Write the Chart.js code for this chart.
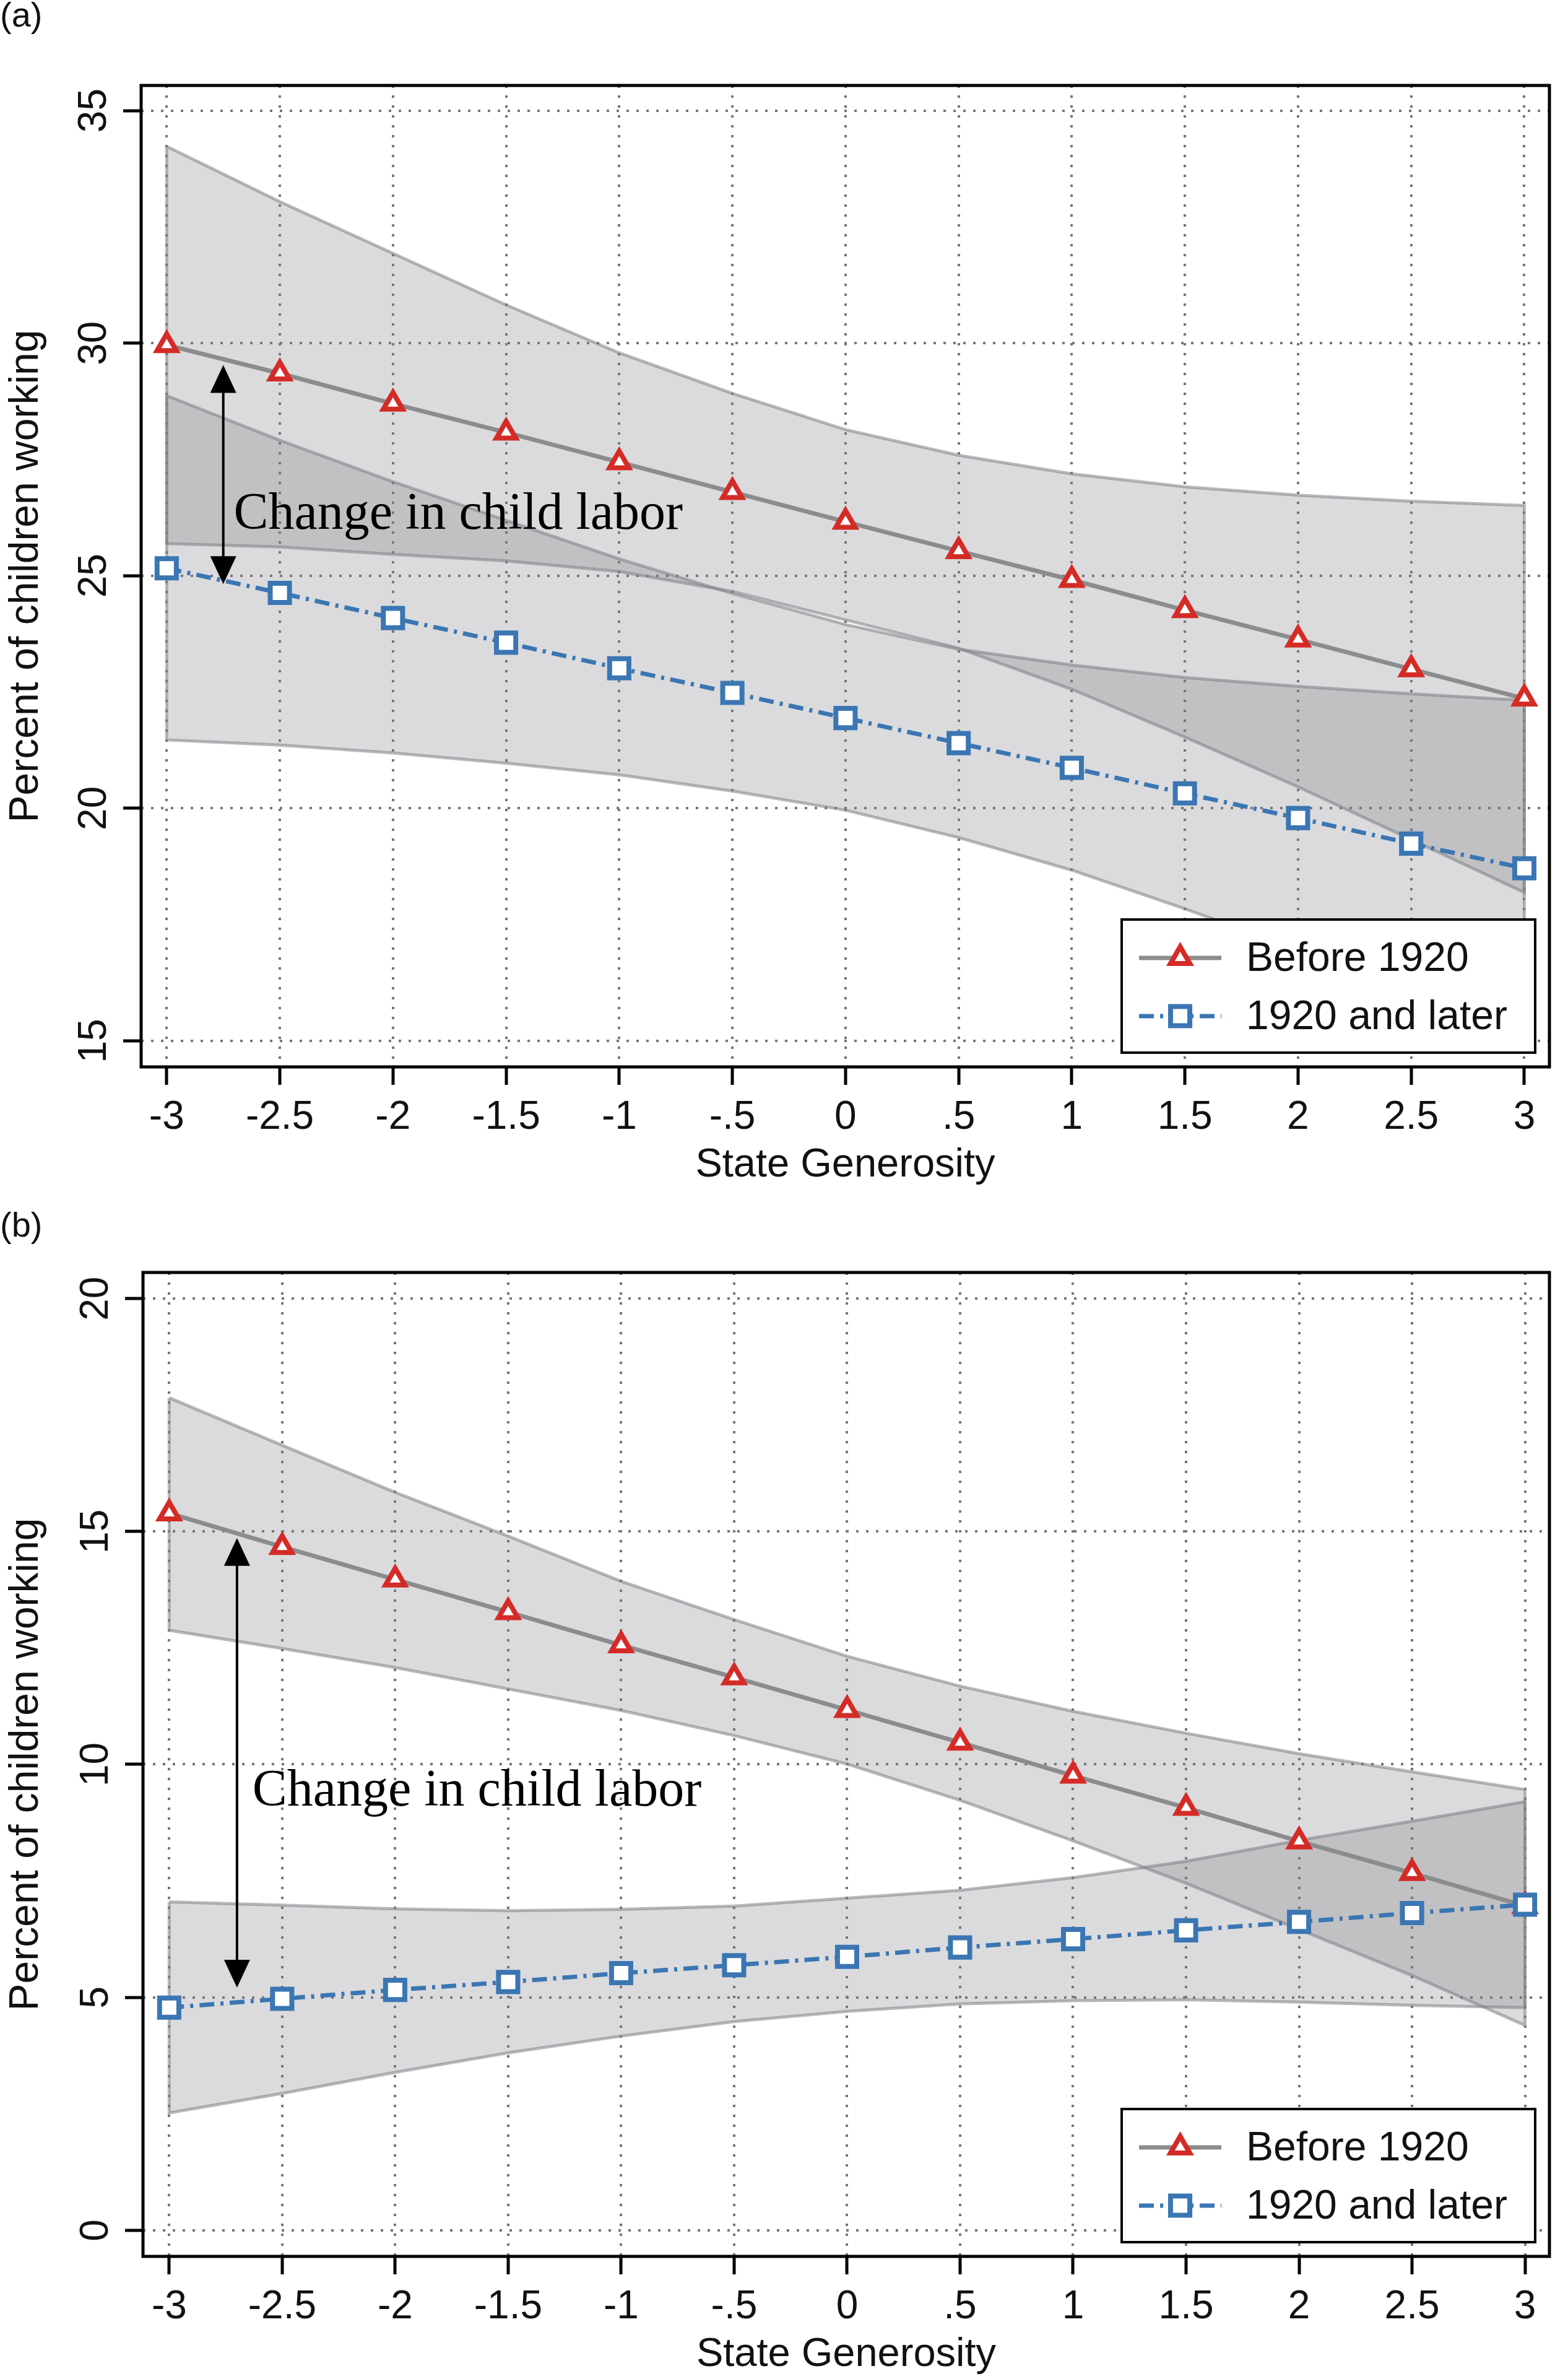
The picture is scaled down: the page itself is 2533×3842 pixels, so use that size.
<!DOCTYPE html>
<html>
<head>
<meta charset="utf-8">
<title>Child labor and state generosity</title>
<script src="https://cdn.jsdelivr.net/npm/chart.js"></script>
<style>
  body{margin:0;background:#fff;}
  .panel{width:2533px;height:1921px;}
  canvas{display:block;}
</style>
</head>
<body>
<div class="panel"><canvas id="plotA" width="2533" height="1921"></canvas></div>
<div class="panel"><canvas id="plotB" width="2533" height="1921"></canvas></div>
<script>
// x positions and their Stata-style labels (no leading zero)
const xValues = [-3, -2.5, -2, -1.5, -1, -0.5, 0, 0.5, 1, 1.5, 2, 2.5, 3]
const xTickLabels = ['-3', '-2.5', '-2', '-1.5', '-1', '-.5', '0', '.5', '1', '1.5', '2', '2.5', '3']
const yTicksA = [15, 20, 25, 30, 35]
const yTicksB = [0, 5, 10, 15, 20]
const seriesNames = ['Before 1920', '1920 and later']

// panel (a)
const beforeA      = [29.96, 29.35, 28.70, 28.08, 27.44, 26.80, 26.16, 25.53, 24.91, 24.26, 23.63, 22.99, 22.36]
const beforeAUpper = [34.23, 33.04, 31.93, 30.82, 29.79, 28.92, 28.14, 27.59, 27.19, 26.91, 26.73, 26.60, 26.51]
const beforeALower = [25.69, 25.62, 25.46, 25.32, 25.09, 24.66, 24.05, 23.44, 22.56, 21.53, 20.46, 19.33, 18.19]
const laterA       = [25.16, 24.63, 24.09, 23.56, 23.01, 22.48, 21.94, 21.40, 20.87, 20.32, 19.79, 19.24, 18.71]
const laterAUpper  = [28.87, 27.91, 27.02, 26.19, 25.36, 24.62, 23.95, 23.42, 23.08, 22.81, 22.62, 22.46, 22.32]
const laterALower  = [21.47, 21.36, 21.19, 20.97, 20.72, 20.37, 19.96, 19.37, 18.67, 17.84, 16.96, 16.02, 15.10]

// panel (b)
const beforeB      = [15.39, 14.67, 13.97, 13.27, 12.56, 11.87, 11.17, 10.47, 9.76, 9.07, 8.35, 7.67, 6.96]
const beforeBUpper = [17.87, 16.85, 15.84, 14.90, 13.93, 13.11, 12.32, 11.68, 11.14, 10.67, 10.23, 9.84, 9.46]
const beforeBLower = [12.88, 12.49, 12.08, 11.62, 11.16, 10.62, 10.01, 9.23, 8.36, 7.45, 6.46, 5.47, 4.40]
const laterB       = [4.78, 4.97, 5.16, 5.33, 5.52, 5.69, 5.87, 6.07, 6.25, 6.44, 6.62, 6.81, 6.99]
const laterBUpper  = [7.05, 6.98, 6.90, 6.86, 6.89, 6.96, 7.13, 7.30, 7.57, 7.92, 8.37, 8.78, 9.20]
const laterBLower  = [2.52, 2.94, 3.39, 3.81, 4.17, 4.48, 4.70, 4.86, 4.93, 4.95, 4.90, 4.83, 4.78]

// "Change in child labor" note: arrow [x, from, to] and text [x, baseline]
const noteText = 'Change in child labor'
const arrowA = [-2.75, 29.53, 24.82]
const noteA  = [-2.704, 26.01]
const arrowB = [-2.70, 14.86, 5.21]
const noteB  = [-2.632, 9.115]

const SANS = "'Liberation Sans', Arial, Helvetica, sans-serif"
const SERIF = "'Liberation Serif', 'Times New Roman', serif"
const RED = '#d52b27'
const BLUE = '#3b76b3'
const CHART_H = 1921
const AREA_BOTTOM = 1723

Chart.defaults.font.family = SANS

const points = (ys) => xValues.map((x, i) => ({x, y: ys[i]}))
// closed outline of a confidence band: upper left->right, lower back, then close
const bandPoints = (upper, lower) => {
  const top = points(upper)
  return [...top, ...points(lower).reverse(), top[0]]
}

const laterStyle = {
  label: seriesNames[1], borderColor: BLUE, borderWidth: 7, borderDash: [24, 10, 5, 10],
  pointStyle: 'rect', pointRadius: 22, pointBorderWidth: 8,
  pointBorderColor: BLUE, pointBackgroundColor: '#fff', fill: false, tension: 0
}
const beforeStyle = {
  label: seriesNames[0], borderColor: '#8b8c8e', borderWidth: 7,
  pointStyle: 'triangle', pointRadius: 18, pointBorderWidth: 8,
  pointBorderColor: RED, pointBackgroundColor: '#fff', fill: false, tension: 0
}
const bandStyle = {
  borderColor: 'rgba(125,127,132,0.55)', borderWidth: 5,
  backgroundColor: 'rgba(125,127,132,0.28)', pointRadius: 0, fill: 'shape', tension: 0
}

// black box round the plot region
const framePlugin = {
  id: 'frameBox',
  afterDatasetsDraw(chart){
    const {ctx, chartArea: a} = chart
    ctx.save()
    ctx.lineWidth = 5
    ctx.strokeStyle = '#000'
    ctx.strokeRect(a.left, a.top, a.right - a.left, a.bottom - a.top)
    ctx.restore()
  }
}

const drawHead = (ctx, x, tip, dir) => {
  ctx.beginPath()
  ctx.moveTo(x, tip)
  ctx.lineTo(x - 21, tip + dir * 45)
  ctx.lineTo(x + 21, tip + dir * 45)
  ctx.closePath()
  ctx.fill()
}

const notePlugin = {
  id: 'changeNote',
  afterDatasetsDraw(chart, args, opts){
    const {ctx, scales: {x, y}} = chart
    const ax = x.getPixelForValue(opts.arrow[0])
    const y1 = y.getPixelForValue(opts.arrow[1])
    const y2 = y.getPixelForValue(opts.arrow[2])
    ctx.save()
    ctx.strokeStyle = '#000'
    ctx.fillStyle = '#000'
    ctx.lineWidth = 4
    ctx.beginPath()
    ctx.moveTo(ax, y1 + 40)
    ctx.lineTo(ax, y2 - 40)
    ctx.stroke()
    drawHead(ctx, ax, y1, 1)
    drawHead(ctx, ax, y2, -1)
    ctx.font = `84px ${SERIF}`
    ctx.textBaseline = 'alphabetic'
    ctx.textAlign = 'left'
    ctx.fillText(noteText, x.getPixelForValue(opts.text[0]), y.getPixelForValue(opts.text[1]))
    ctx.restore()
  }
}

// boxed legend in the lower right corner of the plot
const legendPlugin = {
  id: 'boxLegend',
  afterDraw(chart){
    const {ctx, chartArea: a} = chart
    const w = 668, h = 215
    const left = a.right - 23 - w
    const top = a.bottom - 23 - h
    ctx.save()
    ctx.fillStyle = '#fff'
    ctx.fillRect(left, top, w, h)
    ctx.lineWidth = 4
    ctx.strokeStyle = '#000'
    ctx.strokeRect(left, top, w, h);
    [1, 0].forEach((dsIndex, row) => {
      const ds = chart.data.datasets[dsIndex]
      const y = top + 62 + row * 94
      ctx.setLineDash(ds.borderDash || [])
      ctx.strokeStyle = ds.borderColor
      ctx.lineWidth = ds.borderWidth
      ctx.beginPath()
      ctx.moveTo(left + 28, y)
      ctx.lineTo(left + 161, y)
      ctx.stroke()
      ctx.setLineDash([])
      ctx.fillStyle = '#fff'
      ctx.strokeStyle = ds.pointBorderColor
      ctx.lineWidth = ds.pointBorderWidth
      Chart.helpers.drawPoint(ctx, {pointStyle: ds.pointStyle, radius: ds.pointRadius, borderWidth: ds.pointBorderWidth, rotation: 0}, left + 94.5, y)
      ctx.fillStyle = '#111'
      ctx.font = `66px ${SANS}`
      ctx.textBaseline = 'middle'
      ctx.fillText(ds.label, left + 201, y + 3)
    })
    ctx.restore()
  }
}

const axisGrid = {color: '#777', lineWidth: 4, tickLength: 29, tickWidth: 5, tickColor: '#000'}
const axisBorder = {display: false, dash: [4, 12]}

const makeChart = (id, cfg) => new Chart(document.getElementById(id), {
  type: 'line',
  data: {
    datasets: [
      {...laterStyle, data: points(cfg.later)},
      {...beforeStyle, data: points(cfg.before)},
      {...bandStyle, label: 'before band', data: bandPoints(cfg.beforeUpper, cfg.beforeLower)},
      {...bandStyle, label: 'later band', data: bandPoints(cfg.laterUpper, cfg.laterLower)}
    ]
  },
  options: {
    responsive: false,
    animation: false,
    devicePixelRatio: 1,
    events: [],
    layout: {padding: {top: 0, left: 0, bottom: 0, right: cfg.padRight}},
    plugins: {
      legend: {display: false},
      tooltip: {enabled: false},
      title: {
        display: true, text: cfg.tag, align: 'start', color: '#111',
        font: {family: SANS, size: 56, lineHeight: 1, weight: 'normal'},
        padding: {top: cfg.tagTop, bottom: cfg.areaTop - 56 - cfg.tagTop}
      },
      changeNote: {arrow: cfg.arrow, text: cfg.note}
    },
    scales: {
      x: {
        type: 'linear', min: cfg.xMin, max: cfg.xMax,
        afterBuildTicks: s => { s.ticks = xValues.map(v => ({value: v})) },
        afterFit: s => {
          s.height = CHART_H - AREA_BOTTOM
          // labels fit inside the frame margin, no extra side room wanted
          s.paddingLeft = 0
          s.paddingRight = 0
        },
        ticks: {autoSkip: false, minRotation: 0, maxRotation: 0, padding: 15, color: '#111',
          font: {family: SANS, size: 64}, callback: (v, i) => xTickLabels[i]},
        grid: axisGrid,
        border: axisBorder,
        title: {display: true, text: 'State Generosity', color: '#111',
          font: {family: SANS, size: 65}, padding: {top: 0, bottom: 0}}
      },
      y: {
        type: 'linear', min: cfg.yMin, max: cfg.yMax,
        afterBuildTicks: s => { s.ticks = cfg.yTicks.map(v => ({value: v})) },
        afterFit: s => {
          s.width = cfg.areaLeft
          s.paddingTop = 0
          s.paddingBottom = 0
        },
        ticks: {autoSkip: false, minRotation: 90, maxRotation: 90, crossAlign: 'center', padding: 10,
          color: '#111', font: {family: SANS, size: 64}, callback: v => String(v)},
        grid: axisGrid,
        border: axisBorder,
        title: {display: true, text: 'Percent of children working', color: '#111',
          font: {family: SANS, size: 66}, padding: {top: 3, bottom: 0}}
      }
    }
  },
  plugins: [framePlugin, notePlugin, legendPlugin]
})

makeChart('plotA', {
  tag: '(a)', tagTop: 0, areaTop: 138, areaLeft: 228, padRight: 6,
  xMin: -3.113, xMax: 3.111, yMin: 14.44, yMax: 35.54, yTicks: yTicksA,
  before: beforeA, beforeUpper: beforeAUpper, beforeLower: beforeALower,
  later: laterA, laterUpper: laterAUpper, laterLower: laterALower,
  arrow: arrowA, note: noteA
})

makeChart('plotB', {
  tag: '(b)', tagTop: 33, areaTop: 134, areaLeft: 231, padRight: 4,
  xMin: -3.116, xMax: 3.108, yMin: -0.56, yMax: 20.56, yTicks: yTicksB,
  before: beforeB, beforeUpper: beforeBUpper, beforeLower: beforeBLower,
  later: laterB, laterUpper: laterBUpper, laterLower: laterBLower,
  arrow: arrowB, note: noteB
})
</script>
</body>
</html>
